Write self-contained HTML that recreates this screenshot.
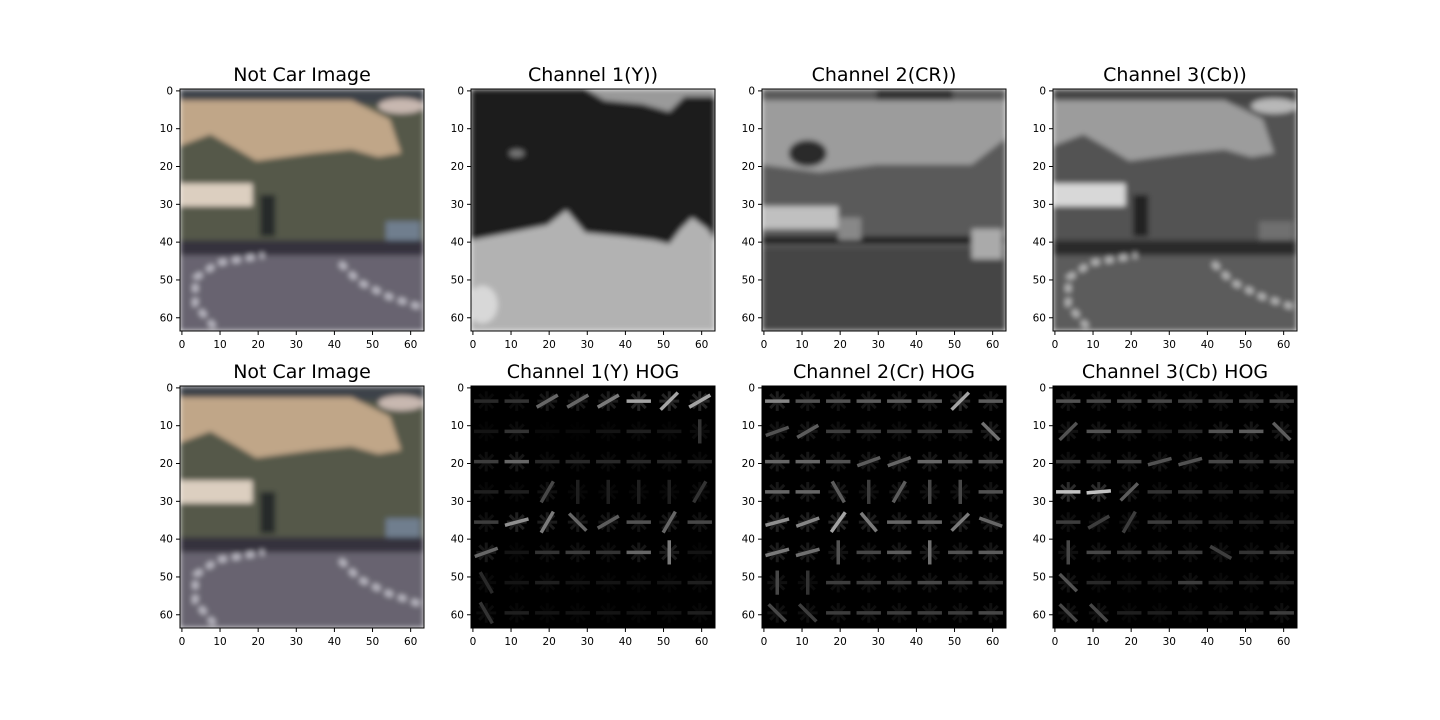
<!DOCTYPE html>
<html><head><meta charset="utf-8"><style>
html,body{margin:0;padding:0;background:#fff;width:1440px;height:720px;overflow:hidden}
svg{display:block}
text{font-family:"DejaVu Sans","Liberation Sans",sans-serif}
</style></head><body>
<svg id="fig" width="1440" height="720" xmlns="http://www.w3.org/2000/svg">
<defs><filter id="blur" x="-5%" y="-5%" width="110%" height="110%"><feGaussianBlur stdDeviation="2.6"/></filter></defs>
</svg>
<script>
const ticks=[0,10,20,30,40,50,60];
const titles=["Not Car Image","Channel 1(Y))","Channel 2(CR))","Channel 3(Cb))","Not Car Image","Channel 1(Y) HOG","Channel 2(Cr) HOG","Channel 3(Cb) HOG"];
// HOG cell magnitudes (8x8), rows top->bottom
const hogY=[[.2,.25,.5,.5,.6,.8,.8,.8],[.1,.25,.05,.05,.1,.15,.1,.25],[.3,.5,.2,.2,.2,.2,.2,.2],[.15,.15,.35,.15,.15,.15,.15,.25],[.3,.7,.6,.5,.45,.4,.5,.35],[.5,.1,.25,.3,.25,.5,.6,.1],[.2,.1,.15,.1,.1,.1,.1,.15],[.25,.15,.1,.1,.1,.1,.1,.15]];
const angY=[[0,0,30,30,30,0,45,30],[0,0,0,0,0,0,0,90],[0,0,0,0,0,0,0,0],[0,0,60,90,90,90,90,60],[0,15,60,-45,30,0,60,0],[20,0,0,0,0,0,90,0],[-60,0,0,0,0,0,0,0],[-60,0,0,0,0,0,0,0]];
const hogCr=[[.65,.4,.4,.45,.45,.45,.8,.45],[.4,.45,.3,.3,.25,.3,.3,.55],[.5,.5,.4,.45,.5,.5,.45,.45],[.5,.5,.45,.3,.45,.35,.35,.4],[.7,.65,.8,.6,.5,.5,.6,.5],[.6,.55,.4,.35,.45,.55,.4,.45],[.35,.25,.3,.3,.3,.35,.3,.3],[.35,.3,.3,.3,.3,.3,.3,.35]];
const angCr=[[0,0,0,0,0,0,45,0],[20,30,0,0,0,0,0,-45],[0,0,0,20,20,0,0,0],[0,0,-60,90,60,90,90,0],[15,20,55,-50,0,0,45,-20],[15,15,90,0,0,90,0,0],[90,90,0,0,0,0,0,0],[-45,-45,0,0,0,0,0,0]];
const hogCb=[[.4,.35,.35,.35,.3,.3,.3,.35],[.4,.4,.3,.15,.2,.4,.45,.45],[.3,.3,.35,.4,.4,.35,.3,.3],[.95,.95,.45,.25,.25,.2,.2,.2],[.3,.3,.3,.3,.25,.2,.2,.2],[.35,.35,.3,.3,.3,.3,.25,.3],[.4,.2,.15,.15,.3,.2,.2,.2],[.35,.35,.15,.15,.15,.2,.2,.3]];
const angCb=[[0,0,0,0,0,0,0,0],[45,0,0,0,0,0,0,-45],[0,0,0,15,15,0,0,0],[0,5,45,0,0,0,0,0],[0,30,60,0,0,0,0,0],[90,0,0,0,0,-30,0,0],[-45,0,0,0,0,0,0,0],[-45,-45,0,0,0,0,0,0]];

const NS="http://www.w3.org/2000/svg";
const svg=document.getElementById('fig');
const cols=[180,471,762,1053],rows=[89,386],W=244,H=242;
function mk(t,a,p){const e=document.createElementNS(NS,t);for(const k in a)e.setAttribute(k,a[k]);(p||svg).appendChild(e);return e;}
function g(v){const c=Math.round(255*Math.min(1,v));return `rgb(${c},${c},${c})`;}

function scene(grp,sx,sy,P){
  const pt=a=>a.map(q=>sx(q[0])+','+sy(q[1])).join(' ');
  const R=(x,y,w,h,f)=>mk('rect',{x:sx(x),y:sy(y),width:sx(x+w)-sx(x),height:sy(y+h)-sy(y),fill:f},grp);
  R(0,0,64,64,P.C);
  R(0,0,64,4,P.A);
  mk('polygon',{points:pt([[0,3],[45,3],[55,8],[58,17],[52,18],[45,16],[35,17],[20,19],[15,16],[8,12],[0,15]]),fill:P.B},grp);
  mk('ellipse',{cx:sx(58),cy:sy(4.5),rx:sx(6)-sx(0),ry:sy(2)-sy(0),fill:P.L},grp);
  R(0,25,19,6,P.D);
  R(21,28,4,11,P.T);
  R(54,35,9,10,P.K);
  R(0,40,64,4,P.E);
  R(0,44,64,20,P.F);
  mk('polyline',{points:pt([[9,63],[4,57],[4,50],[10,46],[22,44]]),fill:'none',stroke:P.S,'stroke-width':sx(1.5)-sx(0),'stroke-dasharray':'8 6'},grp);
  mk('polyline',{points:pt([[42,46],[47,51],[55,55],[64,58]]),fill:'none',stroke:P.S,'stroke-width':sx(1.5)-sx(0),'stroke-dasharray':'8 6'},grp);
}
function sceneY(grp,sx,sy){
  const pt=a=>a.map(q=>sx(q[0])+','+sy(q[1])).join(' ');
  mk('rect',{x:sx(0),y:sy(0),width:sx(64)-sx(0),height:sy(64)-sy(0),fill:'#1b1b1b'},grp);
  mk('polygon',{points:pt([[30,0],[64,0],[64,2],[56,2],[52,6],[45,4],[35,3]]),fill:'#9a9a9a'},grp);
  mk('polygon',{points:pt([[0,40],[10,38],[20,36],[25,32],[30,38],[40,39],[48,40],[52,41],[55,37],[58,34],[62,37],[64,40],[64,64],[0,64]]),fill:'#b2b2b2'},grp);
  mk('ellipse',{cx:sx(3),cy:sy(57),rx:sx(4)-sx(0),ry:sy(5)-sy(0),fill:'#d8d8d8'},grp);
  mk('ellipse',{cx:sx(12),cy:sy(17),rx:sx(2)-sx(0),ry:sy(1)-sy(0),fill:'#777'},grp);
}
function sceneCr(grp,sx,sy){
  const pt=a=>a.map(q=>sx(q[0])+','+sy(q[1])).join(' ');
  const R=(x,y,w,h,f)=>mk('rect',{x:sx(x),y:sy(y),width:sx(x+w)-sx(x),height:sy(y+h)-sy(y),fill:f},grp);
  R(0,0,64,64,'#5a5a5a');
  mk('polygon',{points:pt([[0,3],[64,3],[64,13],[55,20],[30,20],[15,22],[0,20]]),fill:'#9c9c9c'},grp);
  R(30,0,20,3,'#333');
  mk('ellipse',{cx:sx(12),cy:sy(17),rx:sx(5)-sx(0),ry:sy(3.5)-sy(0),fill:'#2a2a2a'},grp);
  R(0,31,20,6,'#c0c0c0');
  R(0,39,64,2,'#1a1a1a');
  R(0,42,64,22,'#444');
  R(55,37,8,8,'#aaa');
  R(20,34,6,6,'#888');
}
function hog(grp,sx,sy,mag,ang){
  for(let r=0;r<8;r++)for(let c=0;c<8;c++){
    const v=mag[r][c],cx=c*8+4,cy=r*8+4;
    [0,45,90,135].forEach(a=>{
      const t=a*Math.PI/180,dx=2.6*Math.cos(t),dy=2.6*Math.sin(t);
      const l=mk('line',{x1:sx(cx-dx),y1:sy(cy-dy),x2:sx(cx+dx),y2:sy(cy+dy),stroke:g(v*0.18),'stroke-width':3},grp);
      
      
    });
    const t=-ang[r][c]*Math.PI/180,dx=3.2*Math.cos(t),dy=3.2*Math.sin(t);
    const l=mk('line',{x1:sx(cx-dx),y1:sy(cy-dy),x2:sx(cx+dx),y2:sy(cy+dy),stroke:g(v*0.8),'stroke-width':3.5},grp);
    
    
  }
}
const colorP={A:'#3e4249',B:'#c0a688',L:'#c8b8b0',C:'#55584a',D:'#dccfc0',T:'#252b2b',K:'#6f7e8e',E:'#34333c',F:'#67636f',S:'#c0bec8'};
const cbP={A:'#444444',B:'#9c9c9c',L:'#b8b8b8',C:'#525252',D:'#d8d8d8',T:'#222222',K:'#707070',E:'#2a2a2a',F:'#5c5c5c',S:'#bbbbbb'};

for(let i=0;i<8;i++){
  const x0=cols[i%4],y0=rows[Math.floor(i/4)];
  const sx=v=>x0+(v+0.5)*W/64, sy=v=>y0+(v+0.5)*H/64;
  const ax=mk('g',{});
  
  
  mk('clipPath',{id:'c'+i},ax);
  mk('rect',{x:x0,y:y0,width:W,height:H},document.getElementById('c'+i));
  const img=mk('g',{'clip-path':`url(#c${i})`},ax);
  
  
  const inner=mk('g',i>=5?{}:{filter:'url(#blur)'},img);
  const isx=v=>x0+v*W/64, isy=v=>y0+v*H/64;
  if(i===0||i===4)scene(inner,isx,isy,colorP);
  else if(i===1)sceneY(inner,isx,isy);
  else if(i===2)sceneCr(inner,isx,isy);
  else if(i===3)scene(inner,isx,isy,cbP);
  else { mk('rect',{x:x0,y:y0,width:W,height:H,fill:'#000'},inner);
    hog(inner,isx,isy,[hogY,hogCr,hogCb][i-5],[angY,angCr,angCb][i-5]); }
  const fr=mk('rect',{x:x0,y:y0,width:W,height:H,fill:'none',stroke:'#000','stroke-width':1},ax);
  
  
  ticks.forEach(t=>{
    mk('line',{x1:sx(t),y1:y0+H,x2:sx(t),y2:y0+H+4,stroke:'#000'},ax);
    const tx=mk('text',{x:sx(t),y:y0+H+17,'font-size':10.5,'text-anchor':'middle'},ax);tx.textContent=t;
    
    
    mk('line',{x1:x0-4,y1:sy(t),x2:x0,y2:sy(t),stroke:'#000'},ax);
    const ty=mk('text',{x:x0-7,y:sy(t)+3.5,'font-size':10.5,'text-anchor':'end'},ax);ty.textContent=t;
    
    
  });
  const tt=mk('text',{x:x0+W/2,y:y0-8,'font-size':19,'text-anchor':'middle'},ax);tt.textContent=titles[i];
  
  
}
</script>
</body></html>
